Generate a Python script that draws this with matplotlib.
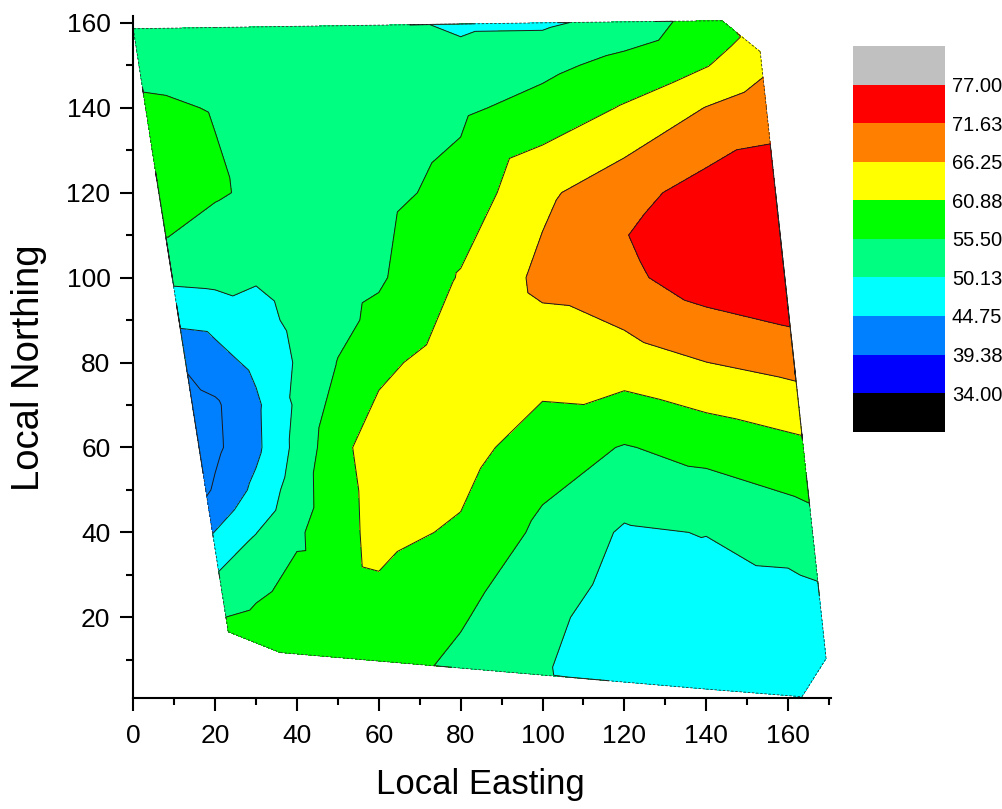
import numpy as np
import matplotlib
matplotlib.use("Agg")
import matplotlib.pyplot as plt
import matplotlib.tri as mtri
from matplotlib.colors import ListedColormap, BoundaryNorm
from matplotlib.collections import LineCollection
from matplotlib.ticker import MultipleLocator
import matplotlib.cm as cm

plt.rcParams['font.family'] = ['Liberation Sans', 'DejaVu Sans']

# ---- data (scattered survey points: Local Easting, Local Northing, value) ----
easting = [
    0.0, 20.0, 40.0, 60.0, 80.0, 100.0, 120.0, 143.9, 148.7, 153.2,
    154.7, 156.9, 159.2, 160.3, 161.4, 163.7, 166.0, 168.2, 169.3, 163.4,
    140.0, 120.0, 100.0, 80.0, 60.0, 35.9, 23.2,
    21.0, 19.4, 17.7, 16.1, 14.5, 12.8, 11.2, 9.6, 7.9, 6.3, 4.6, 3.0, 1.4,
    20, 40, 60, 80, 100, 120, 140,
    20, 40, 60, 80, 100, 120, 140,
    70,
    20, 40, 60, 80, 100, 120, 140,
    120, 130,
    20, 30, 40, 50, 60, 80, 100, 120, 140,
    20, 30, 40, 50, 60, 90,
    20, 30, 40, 50, 60, 80, 100, 120, 140,
    20, 30, 40,
    20, 30, 40, 50, 60, 80, 100, 120, 140,
    20, 30, 40,
    30, 40, 50, 60, 80, 100, 120, 140, 160,
    30,
    30, 40, 50, 60, 80, 100, 120, 140, 160,
]
northing = [
    158.6, 158.9, 159.1, 159.4, 159.7, 160.0, 160.2, 160.5, 156.4, 153.2,
    140.0, 120.0, 100.0, 90.0, 80.0, 60.0, 40.0, 20.0, 10.3, 1.3,
    3.1, 4.8, 6.6, 8.1, 9.7, 11.7, 16.6,
    30.0, 40.0, 50.0, 60.0, 70.0, 80.0, 90.0, 100.0, 110.0, 120.0, 130.0, 140.0, 150.0,
    150, 150, 150, 150, 150, 150, 150,
    140, 140, 140, 140, 140, 140, 140,
    130,
    120, 120, 120, 120, 120, 120, 120,
    110, 110,
    100, 100, 100, 100, 100, 100, 100, 100, 100,
    90, 90, 90, 90, 90, 90,
    80, 80, 80, 80, 80, 80, 80, 80, 80,
    70, 70, 70,
    60, 60, 60, 60, 60, 60, 60, 60, 60,
    50, 50, 50,
    40, 40, 40, 40, 40, 40, 40, 40, 40,
    30,
    20, 20, 20, 20, 20, 20, 20, 20, 20,
]
value = [
    53.5, 53.3, 52.8, 51.5, 49.3, 49.3, 51.8, 59.2, 61.0, 63.5,
    69.5, 74.5, 74.2, 72.3, 68.1, 59.7, 53.3, 47.8, 47.0, 46.5,
    46.8, 47.8, 50.5, 54.3, 58.0, 57.3, 57.2,
    50.6, 44.6, 38.5, 37.2, 37.6, 40.0, 45.9, 51.2, 55.7, 57.0, 57.2, 56.2, 54.3,
    53.8, 53.2, 52.6, 52.0, 54.0, 57.3, 60.6,
    55.3, 53.2, 53.2, 54.5, 57.5, 61.3, 66.4,
    54.7,
    56.0, 53.5, 53.8, 57.4, 65.2, 69.7, 73.8,
    71.4, 73.6,
    51.6, 50.6, 52.5, 53.6, 54.8, 61.3, 67.5, 70.4, 74.5,
    46.5, 48.2, 51.5, 54.0, 56.8, 64.0,
    42.6, 46.1, 50.6, 55.7, 59.6, 63.8, 63.3, 63.7, 66.2,
    38.6, 43.8, 51.0,
    38.3, 43.6, 51.6, 59.4, 63.5, 63.0, 58.0, 55.2, 57.2,
    40.1, 46.0, 52.9,
    50.0, 54.6, 59.2, 62.3, 60.2, 54.3, 49.5, 50.3, 52.4,
    53.5,
    56.5, 58.6, 58.8, 59.2, 56.0, 51.5, 47.5, 46.6, 47.0,
]

levels = [34.00, 39.38, 44.75, 50.13, 55.50, 60.88, 66.25, 71.63, 77.00]
band_colors = ['#0000FF', '#0080FF', '#00FFFF', '#00FF80', '#00FF00',
               '#FFFF00', '#FF8000', '#FF0000']
under_color = '#000000'
over_color = '#C0C0C0'

# ---- figure ----
fig = plt.figure(figsize=(10.03, 8.09), dpi=100)
ax = fig.add_axes([0.1329, 0.1372, 0.6952, 0.8430])

x = np.asarray(easting, float)
y = np.asarray(northing, float)
z = np.asarray(value, float)
triang = mtri.Triangulation(x, y)

# filled bands (the lowest band is drawn in the 39.38-44.75 colour, as in the original)
fill_levels = [levels[0]] + levels[2:]
fill_colors = band_colors[1:]
ax.tricontourf(triang, z, levels=fill_levels, colors=fill_colors)
ax.tricontour(triang, z, levels=levels, colors='#1a1a1a', linewidths=0.7)

# dashed boundary of the triangulated region
segs = []
for i, t in enumerate(triang.triangles):
    for j in range(3):
        if triang.neighbors[i, j] == -1:
            a, b = t[j], t[(j + 1) % 3]
            segs.append([(x[a], y[a]), (x[b], y[b])])
ax.add_collection(LineCollection(segs, colors='#333333', linewidths=0.6,
                                 linestyles=(0, (3, 2))))

ax.set_xlim(0, 170.4)
ax.set_ylim(1, 161.6)
ax.set_xticks(range(0, 161, 20))
ax.set_yticks(range(20, 161, 20))
ax.xaxis.set_minor_locator(MultipleLocator(10))
ax.yaxis.set_minor_locator(MultipleLocator(10))
ax.tick_params(which='major', direction='out', length=9.5, width=1.5,
               labelsize=19)
ax.tick_params(axis='x', which='major', pad=9)
ax.tick_params(axis='y', which='major', pad=7)
ax.tick_params(which='minor', direction='out', length=5, width=1.5)
for s in ['top', 'right']:
    ax.spines[s].set_visible(False)
for s in ['left', 'bottom']:
    ax.spines[s].set_linewidth(1.5)

ax.set_xlabel('Local Easting', fontsize=25)
ax.set_ylabel('Local Northing', fontsize=27.5)
ax.xaxis.set_label_coords(0.4976, -0.103)
ax.yaxis.set_label_coords(-0.124, 0.4846)

# ---- colour scale ----
cmap = ListedColormap(band_colors).with_extremes(under=under_color, over=over_color)
norm = BoundaryNorm(levels, cmap.N)
sm = cm.ScalarMappable(norm=norm, cmap=cmap)
cax = fig.add_axes([0.8508, 0.4664, 0.0914, 0.4768])
cbar = fig.colorbar(sm, cax=cax, extend='both', extendrect=True,
                    extendfrac='auto', ticks=levels, spacing='uniform',
                    format='%.2f')
cbar.outline.set_visible(False)
cbar.ax.tick_params(length=0, labelsize=14.5, pad=5)

fig.savefig('out.png', dpi=100)
